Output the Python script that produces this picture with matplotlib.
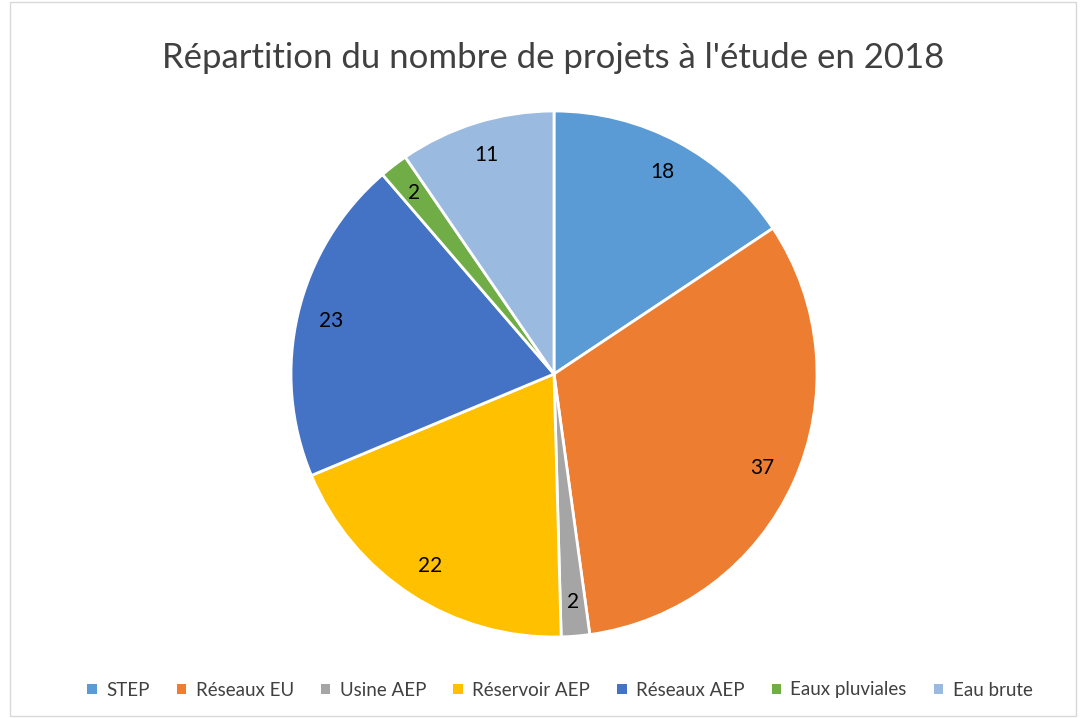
import matplotlib
matplotlib.use('Agg')
import matplotlib.pyplot as plt
from matplotlib.patches import Rectangle

plt.rcParams['font.family'] = ['Lato', 'DejaVu Sans']

categories = ['STEP', 'Réseaux EU', 'Usine AEP', 'Réservoir AEP',
              'Réseaux AEP', 'Eaux pluviales', 'Eau brute']
values = [18, 37, 2, 22, 23, 2, 11]
colors = ['#5B9BD5', '#ED7D31', '#A5A5A5', '#FFC000',
          '#4472C4', '#70AD47', '#9BBADF']

W, H = 1082, 718
fig = plt.figure(figsize=(W / 100, H / 100), dpi=100)

# chart border
fig.patches.append(Rectangle((10 / W, 2 / H), 1066 / W, 714 / H,
                             transform=fig.transFigure, fill=False,
                             edgecolor='#D9D9D9', linewidth=1))

# pie centred at (554, 374) px, radius 263 px
cx, cy, r = 554, 374, 263
ax = fig.add_axes([(cx - r) / W, (H - cy - r) / H, 2 * r / W, 2 * r / H])
wedges, texts = ax.pie(values, labels=[str(v) for v in values], colors=colors,
                       startangle=90, counterclock=False, radius=1,
                       labeldistance=0.87,
                       wedgeprops=dict(edgecolor='white', linewidth=2),
                       textprops=dict(fontsize=15, color='black',
                                      ha='center', va='center'))
ax.set_xlim(-1, 1)
ax.set_ylim(-1, 1)
ax.set_aspect('equal')
ax.axis('off')

fig.text(553 / W, 1 - 58 / H, "Répartition du nombre de projets à l'étude en 2018",
         fontsize=25, ha='center', va='center', color='#404040')

handles = [Rectangle((0, 0), 1, 1, facecolor=c, edgecolor='none') for c in colors]
fig.legend(handles, categories, loc='center', bbox_to_anchor=(560 / W, 1 - 690 / H),
           ncol=7, frameon=False, fontsize=13.5, handlelength=0.5, handleheight=0.5,
           handletextpad=0.5, columnspacing=1.45, labelcolor='#404040')

fig.savefig('out.png', dpi=100)
